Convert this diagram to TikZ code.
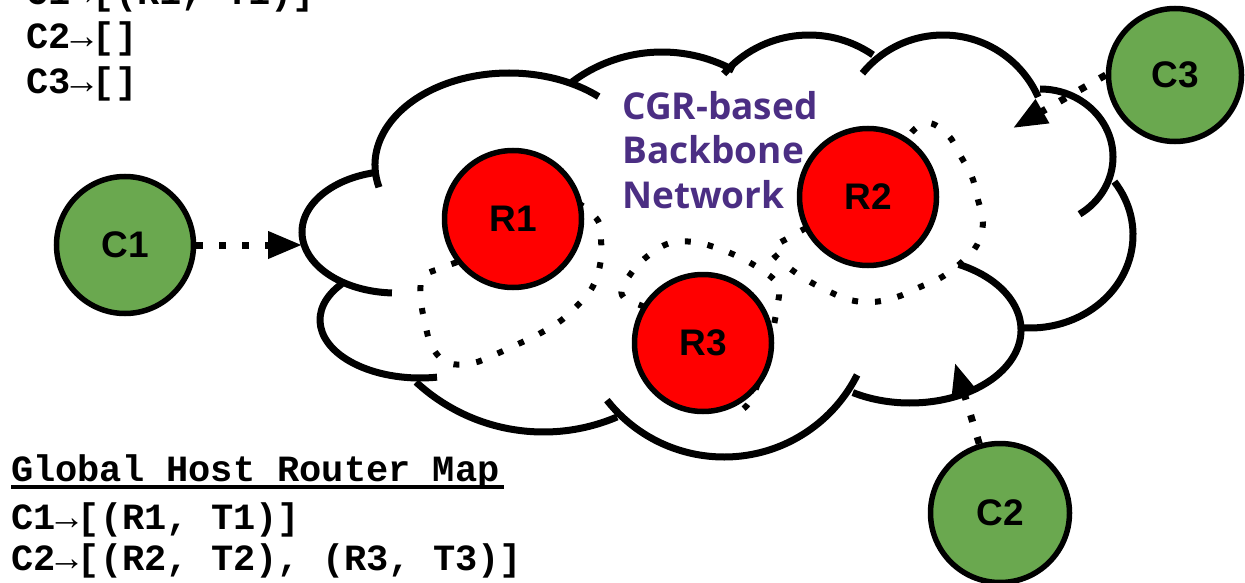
\documentclass[tikz,border=0pt]{standalone}
\usepackage{fontspec}
\usetikzlibrary{arrows.meta,backgrounds}
\newfontfamily\labfont{Liberation Sans}
\newfontfamily\monofont{Liberation Mono}
\newfontfamily\purpfont{Open Sans}
\definecolor{routered}{HTML}{FF0000}
\definecolor{hostgreen}{HTML}{6AA84F}
\definecolor{netpurple}{HTML}{4B2E83}
% lobe: centre x, centre y, x radius, y radius, start angle, end angle (pixel units, y down)
\newcommand\cloudlobe[6]{\draw[cloudline] (#1,#2) ++(#5:#3 and #4) arc[start angle=#5,end angle=#6,x radius=#3,y radius=#4];}
\begin{document}
\begin{tikzpicture}[x=1pt,y=-1pt,
  router/.style={circle,draw=black,line width=5.5pt,fill=routered,minimum size=137pt,inner sep=0pt,
    font=\labfont\bfseries\fontsize{37}{40}\selectfont},
  host/.style={router,fill=hostgreen},
  cloudline/.style={line width=7pt},
  route/.style={line width=6pt,dash pattern=on 6pt off 17pt},
  conn/.style={line width=7pt,dash pattern=on 7pt off 16pt,-{Triangle[length=34pt,width=26pt]}},
  mono/.style={anchor=base west,inner sep=0pt,font=\monofont\bfseries\fontsize{37}{40}\selectfont},
  purp/.style={anchor=base west,inner sep=0pt,text=netpurple,font=\purpfont\bfseries\fontsize{37}{44}\selectfont}
]
\useasboundingbox (0,0) rectangle (1245,583);

% nodes
\node[host] (C1) at (125,245) {C1};
\node[host,minimum size=139pt] (C2) at (1000,513) {C2};
\node[host,minimum size=133pt] (C3) at (1175,75) {C3};
\node[router] (R1) at (513,219) {R1};
\node[router] (R2) at (868,197) {R2};
\node[router] (R3) at (703,343) {R3};

\begin{scope}[on background layer]
  % cloud lobes
  \cloudlobe{509}{165}{134}{92}{166}{312}
  \cloudlobe{662}{202}{150}{150}{233.1}{298.5}
  \cloudlobe{809}{148}{113}{113}{221}{304.5}
  \cloudlobe{943}{139}{104}{104}{219.2}{336.2}
  \cloudlobe{1040}{157}{73}{68}{270}{417.2}
  \cloudlobe{1030}{235}{103}{93}{-35}{94}
  \cloudlobe{910}{330}{111}{73}{-64}{121}
  \cloudlobe{724}{308}{149}{149}{141.8}{26.7}
  \cloudlobe{543.5}{244.4}{187.6}{187.6}{132.8}{66.9}
  \cloudlobe{420}{320}{100}{58}{218.4}{80.2}
  \cloudlobe{396}{232}{94}{61}{257.6}{92.5}
  % routes
  \draw[route] plot[smooth,tension=0.6] coordinates {(R1.center) (565,200) (596,218) (601,240) (600,265) (592,288) (576,307) (559,322) (537,335) (516,345) (494,355) (473,363) (448,363) (432,347) (425,323) (421,300) (423,277) (444,267) (470,255) (R1.center)};
  \draw[route] plot[smooth,tension=0.6] coordinates {(R3.center) (650,310) (622,295) (632,272) (649,255) (670,243) (694,242) (717,248) (739,257) (760,269) (778,285) (777,308) (768,350) (752,398) (737,413)};
  \draw[route] plot[smooth,tension=0.6] coordinates {(R2.center) (812,225) (790,237) (772,250) (787,266) (807,280) (828,291) (850,300) (873,302) (897,297) (920,287) (942,277) (962,262) (977,245) (983,222) (978,200) (972,177) (960,155) (948,135) (927,123) (905,140) (R2.center)};
\end{scope}

% connectors
\coordinate (c1tip) at (302,245);
\coordinate (c2tip) at (955,363);
\coordinate (c3tip) at (1013,128);
\draw[conn] (C1) -- (c1tip);
\draw[conn] (C2) -- (c2tip);
\draw[conn] (C3.west) -- (c3tip);

% cloud label
\node[purp] (n1) at (622,120) {CGR-based};
\node[purp] (n2) at (622,164) {Backbone};
\node[purp] (n3) at (622,208) {Network};

% top-left map
\node[mono] (t1) at (26,5) {C1{\mdseries →}[(R1, T1)]};
\node[mono] (t2) at (26,49) {C2{\mdseries →}[]};
\node[mono] (t3) at (26,94) {C3{\mdseries →}[]};

% bottom-left map
\node[mono] (g0) at (11,481) {Global Host Router Map};
\draw[line width=3.5pt] ([yshift=-6pt]g0.base west) -- ([yshift=-6pt,xshift=4pt]g0.base east);
\node[mono] (g1) at (11,529) {C1{\mdseries →}[(R1, T1)]};
\node[mono] (g2) at (11,570) {C2{\mdseries →}[(R2, T2), (R3, T3)]};
\end{tikzpicture}
\end{document}
